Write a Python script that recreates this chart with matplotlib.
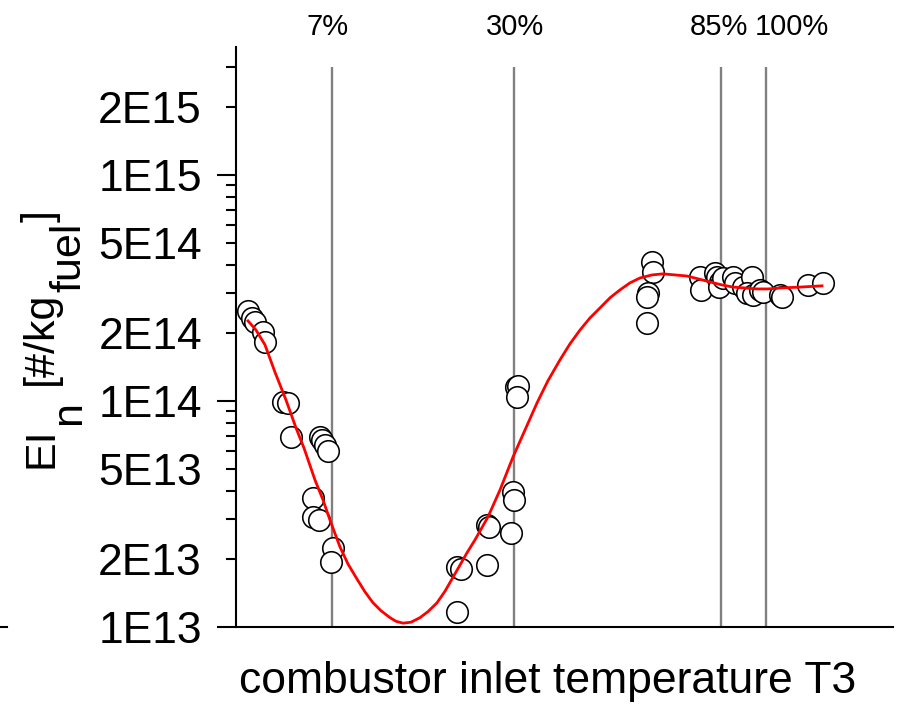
import matplotlib.pyplot as plt
from matplotlib.lines import Line2D
from matplotlib.ticker import LogLocator, FuncFormatter

plt.rcParams['font.family'] = ['Liberation Sans', 'DejaVu Sans']

# measured emission index vs. combustor inlet temperature (arbitrary T3 scale)
t3_meas = [12, 16, 19, 27, 29, 47, 52, 55, 84, 86, 89, 92, 77, 77, 83, 97, 95,
           221, 221, 225, 251, 251, 253, 275, 277, 278, 280, 282, 281,
           416, 417, 412, 411, 411, 464, 465, 479, 481, 484, 483, 487, 497,
           499, 507, 516, 511, 517, 524, 527, 544, 546, 572, 587]
ei_meas = [2.50e14, 2.33e14, 2.24e14, 2.02e14, 1.82e14, 9.9e13, 9.8e13, 6.93e13,
           6.93e13, 6.72e13, 6.39e13, 6.01e13, 3.72e13, 3.07e13, 2.97e13, 2.24e13,
           1.94e13, 1.16e13, 1.84e13, 1.81e13, 1.88e13, 2.83e13, 2.77e13, 2.61e13,
           3.96e13, 3.65e13, 1.15e14, 1.16e14, 1.04e14, 4.12e14, 3.72e14, 3.00e14,
           2.88e14, 2.21e14, 3.54e14, 3.10e14, 3.68e14, 3.54e14, 3.36e14, 3.19e14,
           3.50e14, 3.54e14, 3.33e14, 3.19e14, 3.54e14, 3.00e14, 2.94e14, 3.10e14,
           3.03e14, 2.94e14, 2.88e14, 3.26e14, 3.33e14]

# fitted trend
t3_fit = [12, 20, 29, 39, 50, 60, 68, 79, 87, 94,
          104, 112, 121, 129, 137, 145, 154, 160, 167, 175,
          184, 192, 201, 209, 217, 224, 231, 239, 252, 264,
          277, 289, 301, 312, 324, 334, 344, 354, 364, 374,
          384, 394, 404, 416, 427, 439, 451, 462, 474, 486,
          497, 509, 521, 532, 544, 564, 586]
ei_fit = [2.26e14, 2.06e14, 1.77e14, 1.34e14, 1.01e14, 7.60e13, 6.19e13, 4.47e13, 3.65e13, 2.97e13,
          2.26e13, 1.90e13, 1.63e13, 1.43e13, 1.28e13, 1.18e13, 1.10e13, 1.06e13, 1.04e13, 1.05e13,
          1.10e13, 1.17e13, 1.28e13, 1.44e13, 1.66e13, 1.88e13, 2.13e13, 2.43e13, 3.07e13, 4.04e13,
          5.65e13, 7.44e13, 9.80e13, 1.23e14, 1.52e14, 1.79e14, 2.06e14, 2.33e14, 2.58e14, 2.86e14,
          3.10e14, 3.33e14, 3.50e14, 3.61e14, 3.65e14, 3.61e14, 3.57e14, 3.47e14, 3.36e14, 3.26e14,
          3.19e14, 3.16e14, 3.13e14, 3.13e14, 3.16e14, 3.19e14, 3.23e14]

# LTO thrust settings
thrust_t3 = [96, 278, 485, 530]
thrust_labels = ['7%', '30%', '85%', '100%']
thrust_label_x = [92, 279, 483, 556]


def tick_fmt(val, pos):
    exp = int(f"{val:e}".split('e')[1])
    mant = round(val / 10**exp)
    if mant in (1, 2, 5):
        return f"{mant}E{exp}"
    return ""


fig = plt.figure(figsize=(8.98, 7.04), dpi=100)
ax = fig.add_axes([236/898, 1 - 627/704, 657/898, 580/704])

for xv in thrust_t3:
    ax.vlines(xv, 1e13, 3e15, color='#808080', lw=1.7, zorder=1)
ax.plot(t3_meas, ei_meas, 'o', ms=15.5, mfc='white', mec='black', mew=1.15,
        zorder=2, clip_on=False)
ax.plot(t3_fit, ei_fit, '-', color='red', lw=2.0, zorder=3)

for xl, lab in zip(thrust_label_x, thrust_labels):
    ax.text(xl, 1.035, lab, transform=ax.get_xaxis_transform(), ha='center',
            va='center', fontsize=21)

ax.set_yscale('log')
ax.set_ylim(1e13, 3.68e15)
ax.set_xlim(0, 657)
ax.set_xticks([])

ax.yaxis.set_major_locator(LogLocator(base=10))
ax.yaxis.set_minor_locator(LogLocator(base=10, subs=range(2, 10)))
ax.yaxis.set_major_formatter(FuncFormatter(tick_fmt))
ax.yaxis.set_minor_formatter(FuncFormatter(tick_fmt))
ax.tick_params(axis='y', which='major', length=14, width=1.5, pad=10.5,
               labelsize=32, direction='out')
ax.tick_params(axis='y', which='minor', length=7, width=1.5, pad=17.5,
               labelsize=32, direction='out')

for side in ('top', 'right'):
    ax.spines[side].set_visible(False)
for side in ('left', 'bottom'):
    ax.spines[side].set_linewidth(1.5)

fig.text(548/898, 1 - 682/704, 'combustor inlet temperature T3', ha='center',
         va='center', fontsize=32)

# y label built from pieces so the subscripts stay full size
label_parts = [('EI', 52, 468), ('n', 80, 425), ('[#/kg', 52, 385),
               ('fuel', 80, 292), (']', 52, 222)]
for txt, px, py in label_parts:
    fig.text(px/898, 1 - py/704, txt, rotation=90, rotation_mode='anchor',
             ha='left', va='baseline', fontsize=31)

fig.add_artist(Line2D([0, 7/898], [1 - 627/704, 1 - 627/704], color='black',
                      lw=1.5))

fig.savefig('out.png', dpi=100)
